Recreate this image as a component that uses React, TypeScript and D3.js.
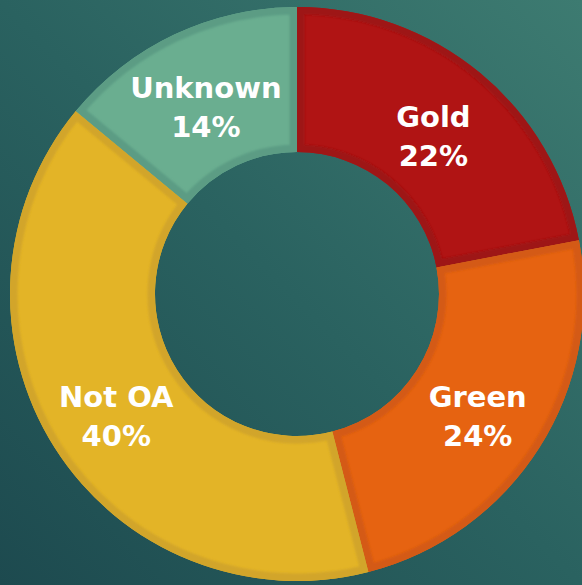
import React from "react";
import * as d3 from "d3";

const categories = ["Gold", "Green", "Not OA", "Unknown"];
const values = [22, 24, 40, 14];
const fills = ["#b01414", "#e66311", "#e3b427", "#6aae90"];
const borders = ["#9e1212", "#d45a12", "#d2a52a", "#5c9c84"];

const W = 582;
const H = 585;
const cx = 297;
const cy = 294;
const outerR = 287;
const innerR = 142;

export default function App() {
  const pie = d3.pie<number>().sort(null).value((d) => d);
  const arcs = pie(values);
  const arc = d3.arc<d3.PieArcDatum<number>>().innerRadius(innerR).outerRadius(outerR);
  const labelArc = d3.arc<d3.PieArcDatum<number>>().innerRadius(214).outerRadius(214);
  return (
    <svg width={W} height={H} style={{ position: "fixed", left: 0, top: 0 }}>
      <defs>
        <linearGradient id="bg" x1="0" y1="1" x2="1" y2="0">
          <stop offset="0%" stopColor="#1d4a4f" />
          <stop offset="50%" stopColor="#2a6260" />
          <stop offset="100%" stopColor="#3d7b71" />
        </linearGradient>
        <filter id="soft" x="-5%" y="-5%" width="110%" height="110%">
          <feGaussianBlur stdDeviation="1.2" />
        </filter>
        {arcs.map((a, i) => (
          <clipPath id={`clip${i}`} key={i}>
            <path d={arc(a) || ""} />
          </clipPath>
        ))}
      </defs>
      <rect x={0} y={0} width={W} height={H} fill="url(#bg)" />
      <g transform={`translate(${cx},${cy})`}>
        {arcs.map((a, i) => (
          <g key={i}>
            <path d={arc(a) || ""} fill={fills[i]} />
            <g clipPath={`url(#clip${i})`}>
              <path
                d={arc(a) || ""}
                fill="none"
                stroke={borders[i]}
                strokeWidth={15}
                filter="url(#soft)"
              />
            </g>
          </g>
        ))}
        {arcs.map((a, i) => {
          const [x, y] = labelArc.centroid(a);
          return (
            <text
              key={`t${i}`}
              x={x}
              y={y - 2}
              textAnchor="middle"
              fill="#ffffff"
              fontFamily="'DejaVu Sans', sans-serif"
              fontWeight="bold"
              fontSize={29}
            >
              <tspan x={x} dy={0}>{categories[i]}</tspan>
              <tspan x={x} dy={39}>{values[i]}%</tspan>
            </text>
          );
        })}
      </g>
    </svg>
  );
}
